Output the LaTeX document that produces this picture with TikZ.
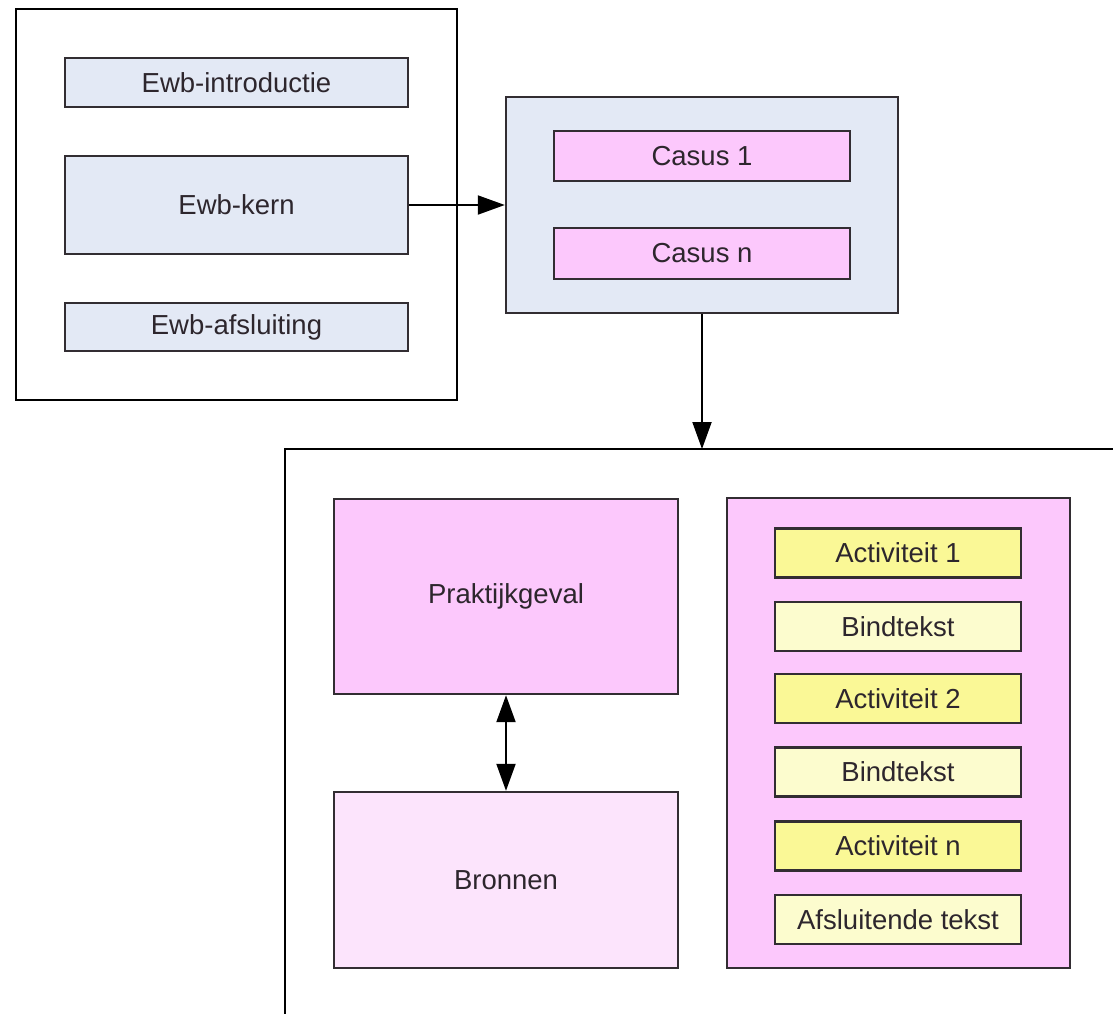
\documentclass[tikz,border=0pt]{standalone}
\usepackage{fontspec}
\setmainfont{Liberation Sans}
\usetikzlibrary{arrows.meta}
\definecolor{paleblue}{RGB}{227,233,245}
\definecolor{pinkfill}{RGB}{252,200,252}
\definecolor{palepink}{RGB}{252,228,252}
\definecolor{yellowfill}{RGB}{250,248,150}
\definecolor{paleyellow}{RGB}{252,252,206}
\definecolor{edge}{RGB}{50,45,50}
\definecolor{label}{RGB}{45,38,45}
\tikzset{
  frame/.style={draw=black, line width=2pt, fill=white, inner sep=0pt},
  block/.style={draw=edge, line width=2.4pt, inner sep=0pt, text=label,
    font=\fontsize{27.5}{31}\selectfont},
  blue/.style={block, fill=paleblue},
  pink/.style={block, fill=pinkfill},
  lightpink/.style={block, fill=palepink},
  act/.style={block, fill=yellowfill, minimum width=246pt, minimum height=49pt},
  bind/.style={block, fill=paleyellow, minimum width=246pt, minimum height=49pt},
  link/.style={line width=2pt, draw=black, -{Triangle[length=27pt,width=19pt]}},
  duplex/.style={line width=2pt, draw=black, {Triangle[length=27pt,width=19pt]}-{Triangle[length=27pt,width=19pt]}}
}
\begin{document}
\begin{tikzpicture}[x=1pt, y=-1pt]
\useasboundingbox (0,0) rectangle (1113,1013);

% outer frame of the workbook
\node[frame, minimum width=441pt, minimum height=391pt] (ewb) at (236.5,204.5) {};
\node[blue, minimum width=343pt, minimum height=49pt] (intro) at (236.5,82.5) {Ewb-introductie};
\node[blue, minimum width=343pt, minimum height=98pt] (kern) at (236.5,205) {Ewb-kern};
\node[blue, minimum width=343pt, minimum height=48pt] (afsl) at (236.5,327) {Ewb-afsluiting};

% cases
\node[blue, minimum width=392pt, minimum height=216pt] (casus) at (702,205) {};
\node[pink, minimum width=296pt, minimum height=50pt] (casus1) at (702,156) {Casus 1};
\node[pink, minimum width=296pt, minimum height=51pt] (casusn) at (702,253.5) {Casus n};

% open frame of a single case
\coordinate (caseTop) at (702,449);
\coordinate (frameTL) at (285,449);
\coordinate (frameTR) at (1113,449);
\coordinate (frameBL) at (285,1013);
\draw[line width=2pt, line cap=rect] (frameBL) -- (frameTL) -- (frameTR);

\node[pink, minimum width=344pt, minimum height=195pt] (prak) at (506,596.5) {Praktijkgeval};
\node[lightpink, minimum width=344pt, minimum height=176pt] (bron) at (506,880) {Bronnen};

\node[pink, minimum width=343pt, minimum height=470pt] (acts) at (898.5,733) {};
\node[act]  (a1) at (898,553)   {Activiteit 1};
\node[bind] (b1) at (898,626.5) {Bindtekst};
\node[act]  (a2) at (898,698.5) {Activiteit 2};
\node[bind] (b2) at (898,772)   {Bindtekst};
\node[act]  (an) at (898,846)   {Activiteit n};
\node[bind] (af) at (898,919.5) {Afsluitende tekst};

% connectors
\draw[link] (kern.east) -- (casus.west);
\draw[link] (casus.south) -- (caseTop);
\draw[duplex] (prak.south) -- (bron.north);
\end{tikzpicture}
\end{document}
